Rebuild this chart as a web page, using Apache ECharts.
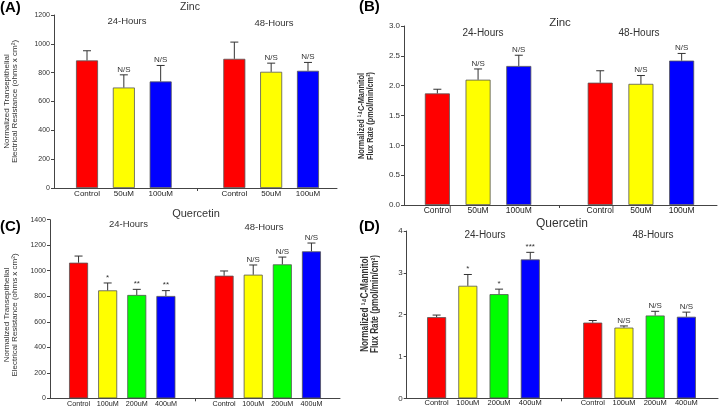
<!DOCTYPE html>
<html><head><meta charset="utf-8">
<script src="https://cdn.jsdelivr.net/npm/echarts@6/dist/echarts.min.js"></script>
<style>html,body{margin:0;padding:0;background:#fff}#c{width:720px;height:413px}</style>
</head><body><div id="c"></div><script>
// ---- data ----
const zincCategories = ['Control','50uM','100uM','','Control','50uM','100uM'];
const quercetinCategories = ['Control','100uM','200uM','400uM','','Control','100uM','200uM','400uM'];
const zincColors = ['#ff0000','#ffff00','#0000ff',null,'#ff0000','#ffff00','#0000ff'];
const quercetinColors = ['#ff0000','#ffff00','#00ff00','#0000ff',null,'#ff0000','#ffff00','#00ff00','#0000ff'];

const zincTeerMean = [885, 697, 739, null, 896, 806, 813];
const zincTeerSD   = [67, 88, 111, null, 116, 60, 58];
const zincTeerSig  = ['', 'N/S', 'N/S', '', '', 'N/S', 'N/S'];

const zincFluxMean = [1.87, 2.10, 2.33, null, 2.05, 2.03, 2.42];
const zincFluxSD   = [0.07, 0.18, 0.18, null, 0.20, 0.14, 0.12];
const zincFluxSig  = ['', 'N/S', 'N/S', '', '', 'N/S', 'N/S'];

const quercetinTeerMean = [1063, 846, 810, 802, null, 961, 969, 1050, 1152];
const quercetinTeerSD   = [52, 58, 44, 42, null, 37, 76, 57, 65];
const quercetinTeerSig  = ['', '*', '**', '**', '', '', 'N/S', 'N/S', 'N/S'];

const quercetinFluxMean = [1.94, 2.69, 2.49, 3.32, null, 1.81, 1.69, 1.98, 1.95];
const quercetinFluxSD   = [0.05, 0.27, 0.12, 0.17, null, 0.05, 0.04, 0.10, 0.11];
const quercetinFluxSig  = ['', '*', '*', '***', '', '', 'N/S', 'N/S', 'N/S'];

const teerAxisName = 'Normalized Transepithelial\nElectrical Resistance (ohms x cm²)';
const fluxAxisName = 'Normalized ¹⁴C-Mannitol\nFlux Rate (pmol/min/cm²)';

// ---- layout ----
const FONT = '"Liberation Sans", Arial, sans-serif';
const panels = [
  {cats: zincCategories, colors: zincColors, mean: zincTeerMean, sd: zincTeerSD, sig: zincTeerSig,
   yMax: 1200, yInt: 200, yName: teerAxisName, nameGap: 35, nameLH: 8, nameSize: 8, namePad: [0,0,0,0],
   left: 68.6, slotEnd: 326.4, axisX: 54, axisEnd: 337, top: 15, base: 188,
   xFont: 8, yFont: 7, barWidth: 22, xMargin: 2},
  {cats: zincCategories, colors: zincColors, mean: zincFluxMean, sd: zincFluxSD, sig: zincFluxSig,
   yMax: 3, yInt: 0.5, yDec: 1, yName: '',
   left: 417, slotEnd: 702, axisX: 404, axisEnd: 717, top: 26, base: 205,
   xFont: 8.5, yFont: 8, barWidth: 25, xMargin: 1},
  {cats: quercetinCategories, colors: quercetinColors, mean: quercetinTeerMean, sd: quercetinTeerSD, sig: quercetinTeerSig,
   yMax: 1400, yInt: 200, yName: teerAxisName, nameGap: 30.5, nameLH: 8.5, nameSize: 8, namePad: [0,12,0,0],
   left: 64, slotEnd: 326, axisX: 50, axisEnd: 340, top: 219.7, base: 398.3,
   xFont: 7.2, yFont: 7, barWidth: 19, xMargin: 2},
  {cats: quercetinCategories, colors: quercetinColors, mean: quercetinFluxMean, sd: quercetinFluxSD, sig: quercetinFluxSig,
   yMax: 4, yInt: 1, yName: '',
   left: 421, slotEnd: 702, axisX: 406.7, axisEnd: 718, top: 231, base: 398.3,
   xFont: 7.5, yFont: 8, barWidth: 19, xMargin: 1}
];

const W = 720, H = 413;
const grid = [], xAxis = [], yAxis = [], series = [];

panels.forEach((p, k) => {
  const gi = grid.length;
  grid.push({left: p.left, right: W - p.slotEnd, top: p.top, bottom: H - p.base, containLabel: false});
  xAxis.push({
    type: 'category', gridIndex: gi, data: p.cats, boundaryGap: true,
    axisLine: {show: false},
    axisTick: {show: true, alignWithLabel: true, length: 3, interval: (i) => p.cats[i] === '',
               lineStyle: {color: '#444', width: 1}},
    axisLabel: {interval: 0, fontSize: p.xFont, fontFamily: FONT, color: '#222', margin: p.xMargin}
  });
  const ya = {
    type: 'value', gridIndex: gi, min: 0, max: p.yMax, interval: p.yInt,
    offset: p.left - p.axisX,
    axisLine: {show: true, lineStyle: {color: '#444', width: 1}},
    axisTick: {show: true, length: 3, lineStyle: {color: '#444'}},
    splitLine: {show: false},
    axisLabel: {fontSize: p.yFont, fontFamily: FONT, color: '#333', margin: 4,
                formatter: (v) => p.yDec ? v.toFixed(p.yDec) : String(v)}
  };
  if (p.yName) {
    Object.assign(ya, {name: p.yName, nameLocation: 'middle', nameRotate: 90, nameGap: p.nameGap,
      nameTextStyle: {fontSize: p.nameSize, fontFamily: FONT, color: '#333', lineHeight: p.nameLH,
                      align: 'center', padding: p.namePad}});
  }
  yAxis.push(ya);
  const fi = grid.length;
  grid.push({left: p.axisX, right: W - p.axisEnd, top: p.top, bottom: H - p.base});
  xAxis.push({type: 'value', gridIndex: fi, min: 0, max: 1,
    axisLine: {show: true, lineStyle: {color: '#444', width: 1}},
    axisTick: {show: false}, axisLabel: {show: false}, splitLine: {show: false}});
  yAxis.push({type: 'value', gridIndex: fi, show: false, min: 0, max: 1});

  series.push({
    type: 'bar', xAxisIndex: gi, yAxisIndex: gi, barWidth: p.barWidth,
    data: p.mean.map((v, i) => v == null ? '-' : {value: v, itemStyle: {color: p.colors[i]}}),
    itemStyle: {borderColor: '#555', borderWidth: 0.8},
    silent: true, animation: false
  });
  series.push({
    type: 'custom', xAxisIndex: gi, yAxisIndex: gi,
    data: p.mean.map((v, i) => v == null ? null : [i, v, v + p.sd[i]]).filter(d => d),
    renderItem: (params, api) => {
      const i = api.value(0);
      const a = api.coord([i, api.value(1)]);
      const b = api.coord([i, api.value(2)]);
      const cap = 4;
      const children = [
        {type: 'line', shape: {x1: a[0], y1: a[1], x2: b[0], y2: b[1]}, style: {stroke: '#333', lineWidth: 1}},
        {type: 'line', shape: {x1: b[0] - cap, y1: b[1], x2: b[0] + cap, y2: b[1]}, style: {stroke: '#333', lineWidth: 1}}
      ];
      const s = p.sig[i];
      if (s) children.push({type: 'text', style: {text: s, x: b[0], y: b[1] - 1.5, align: 'center', verticalAlign: 'bottom',
        font: '8px ' + FONT, fill: '#333'}});
      return {type: 'group', children};
    },
    animation: false, silent: true, z: 3
  });
});

function txt(t, x, y, size, opts) {
  opts = opts || {};
  return {type: 'text', x: x, y: y, silent: true,
    style: {text: t, fontSize: size, fontFamily: FONT, fontWeight: opts.bold ? 'bold' : 'normal',
      fill: opts.fill || '#333', align: opts.align || 'center', verticalAlign: 'middle'}};
}
function vname(t, x, y, size, lh, sx) {
  return {type: 'text', x: x, y: y, rotation: Math.PI / 2, scaleX: sx, silent: true,
    style: {text: t, fontSize: size, fontFamily: FONT, fontWeight: 'bold', fill: '#333',
      align: 'center', verticalAlign: 'middle', lineHeight: lh}};
}
const graphic = [
  txt('(A)', 0, 8, 15, {bold: true, align: 'left', fill: '#000'}),
  txt('Zinc', 190, 7, 10.5),
  txt('24-Hours', 127, 21, 9.5),
  txt('48-Hours', 274, 23, 9.5),
  txt('(B)', 359, 7, 15, {bold: true, align: 'left', fill: '#000'}),
  txt('Zinc', 560, 23, 11.5),
  txt('24-Hours', 483, 33, 10),
  txt('48-Hours', 639, 33, 10),
  vname(fluxAxisName, 366, 116, 9, 8.5, 0.82),
  txt('(C)', 0, 227, 15, {bold: true, align: 'left', fill: '#000'}),
  txt('Quercetin', 196, 214, 11),
  txt('24-Hours', 128.5, 224, 9.5),
  txt('48-Hours', 264, 227, 9.5),
  txt('(D)', 359, 226.5, 15, {bold: true, align: 'left', fill: '#000'}),
  txt('Quercetin', 562, 224, 12),
  txt('24-Hours', 485, 235, 10),
  txt('48-Hours', 653, 235, 10),
  vname(fluxAxisName, 370, 304, 10, 10, 0.82)
];

const chart = echarts.init(document.getElementById('c'), null, {renderer: 'canvas'});
chart.setOption({backgroundColor: '#fff', animation: false, grid, xAxis, yAxis, series, graphic});
</script></body></html>
